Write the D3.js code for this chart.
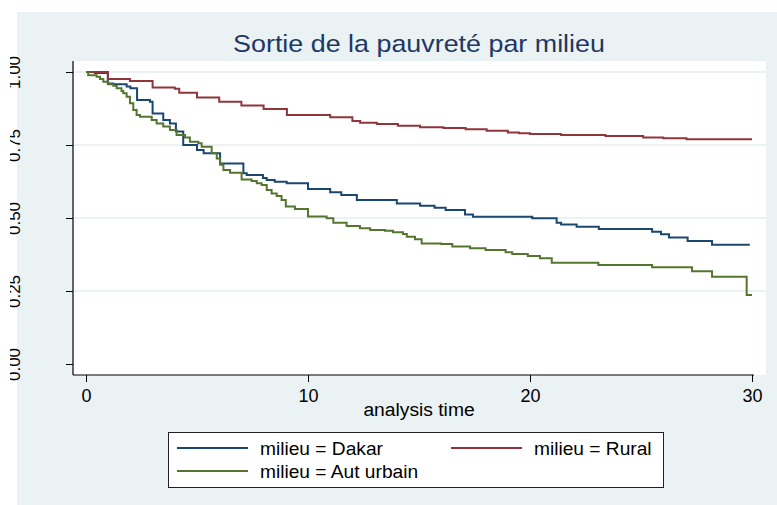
<!DOCTYPE html>
<html>
<head>
<meta charset="utf-8">
<script src="https://d3js.org/d3.v7.min.js"></script>
<style>
	body { margin: 0; background: #fff; }
	svg { display: block; font-family: "Liberation Sans", Arial, sans-serif; }
</style>
</head>
<body>
<svg id="chart" width="777" height="505"></svg>
<script>

// Kaplan-Meier estimates (time, survival)
var dakarTime = [0, 0.4, 0.98, 1.23, 1.83, 2.0, 2.3, 2.88, 3.0, 3.48, 3.78, 4.05, 4.38, 5.0, 5.3, 6.04, 7.09, 7.24, 7.97, 8.14, 8.5, 9.04, 10.0, 11.0, 11.5, 12.2, 14.0, 15.05, 15.7, 16.2, 17.07, 17.43, 20.1, 21.2, 21.4, 22.1, 23.1, 25.5, 25.9, 26.26, 27.1, 28.2, 29.9];
var dakarSurv = [1.0, 0.997, 0.961, 0.958, 0.95, 0.944, 0.904, 0.898, 0.858, 0.836, 0.824, 0.796, 0.75, 0.733, 0.722, 0.687, 0.653, 0.647, 0.637, 0.630, 0.624, 0.619, 0.599, 0.588, 0.579, 0.562, 0.550, 0.542, 0.535, 0.527, 0.512, 0.504, 0.499, 0.484, 0.478, 0.470, 0.462, 0.453, 0.444, 0.433, 0.421, 0.408, 0.408];

var ruralTime = [0, 0.99, 1.98, 3.0, 4.0, 4.2, 5.0, 6.0, 7.0, 8.0, 9.05, 11.0, 12.0, 12.35, 13.1, 14.05, 15.05, 16.1, 17.1, 18.05, 19.0, 19.5, 20.0, 21.4, 23.4, 25.1, 26.0, 27.05, 30.0];
var ruralSurv = [1.0, 0.976, 0.969, 0.947, 0.943, 0.929, 0.913, 0.898, 0.885, 0.873, 0.853, 0.845, 0.832, 0.826, 0.822, 0.816, 0.811, 0.808, 0.804, 0.799, 0.793, 0.790, 0.788, 0.784, 0.781, 0.776, 0.773, 0.770, 0.770];

var autTime = [0, 0.1, 0.48, 0.63, 0.78, 1.0, 1.23, 1.38, 1.6, 1.68, 1.83, 1.98, 2.13, 2.28, 2.43, 2.96, 3.18, 3.48, 3.78, 4.08, 4.46, 4.68, 5.06, 5.21, 5.66, 5.89, 6.04, 6.19, 6.49, 7.01, 7.46, 7.69, 7.91, 8.14, 8.36, 8.59, 8.81, 9.0, 9.41, 10.0, 10.84, 11.14, 11.74, 12.34, 12.8, 13.47, 13.83, 14.28, 14.45, 14.82, 15.12, 16.0, 16.5, 17.3, 18.0, 18.9, 19.2, 19.9, 20.45, 20.98, 23.08, 25.5, 27.3, 28.2, 29.76, 30.0];
var autSurv = [1.0, 0.989, 0.984, 0.976, 0.967, 0.958, 0.953, 0.944, 0.935, 0.927, 0.915, 0.893, 0.870, 0.853, 0.847, 0.836, 0.824, 0.813, 0.801, 0.784, 0.776, 0.761, 0.756, 0.744, 0.722, 0.704, 0.682, 0.664, 0.655, 0.632, 0.627, 0.619, 0.613, 0.596, 0.584, 0.575, 0.562, 0.539, 0.531, 0.505, 0.499, 0.484, 0.473, 0.465, 0.459, 0.456, 0.451, 0.445, 0.436, 0.427, 0.413, 0.411, 0.402, 0.396, 0.390, 0.383, 0.377, 0.370, 0.362, 0.347, 0.339, 0.331, 0.318, 0.299, 0.236, 0.236];

var seriesNames = ["milieu = Dakar", "milieu = Rural", "milieu = Aut urbain"];
var seriesColors = ["#1a476f", "#90353b", "#55752f"];

var xTicks = [0, 10, 20, 30];
var yTicks = [0, 0.25, 0.5, 0.75, 1];

var titleText = "Sortie de la pauvreté par milieu";
var xTitle = "analysis time";


var svg = d3.select("#chart");

var PANEL_BG = "#eaf2f3";
var plotBox = { left: 73, top: 61, right: 766, bottom: 375 };

var x = d3.scaleLinear().domain([0, 30]).range([86, 752]);
var y = d3.scaleLinear().domain([0, 1]).range([364, 72]);

// the source image is cropped on the left, tick labels lose their tops
svg.append("defs").append("clipPath")
	.attr("id", "leftcrop")
	.append("rect")
	.attr("x", 10).attr("y", 0)
	.attr("width", 767).attr("height", 505);

// graph region + plot region
svg.append("rect")
	.attr("x", 17).attr("y", 12)
	.attr("width", 777 - 17).attr("height", 505 - 12)
	.attr("fill", PANEL_BG);

svg.append("rect")
	.attr("x", plotBox.left).attr("y", plotBox.top)
	.attr("width", plotBox.right - plotBox.left)
	.attr("height", plotBox.bottom - plotBox.top)
	.attr("fill", "#fff");

// grid lines (none at 0)
svg.append("g").selectAll("line")
	.data(yTicks.filter(function(d) { return d > 0; }))
	.enter().append("line")
	.attr("x1", plotBox.left).attr("x2", plotBox.right)
	.attr("y1", function(d) { return y(d); })
	.attr("y2", function(d) { return y(d); })
	.attr("stroke", PANEL_BG)
	.attr("stroke-width", 2);

// stretch text horizontally a bit, the source picture is wider than tall
function stretchText(g, px, py, sx, txt, size, color) {
	g.append("text")
		.attr("transform", "translate(" + px + "," + py + ") scale(" + sx + ",1)")
		.attr("text-anchor", "middle")
		.attr("font-size", size)
		.attr("fill", color)
		.text(txt);
}

stretchText(svg, 419, 52, 1.12, titleText, 24, "#1e3765");

// y axis
var yAxis = d3.axisLeft(y).tickValues(yTicks).tickFormat(d3.format(".2f")).tickSize(7);
var yG = svg.append("g")
	.attr("clip-path", "url(#leftcrop)")
	.append("g")
	.attr("transform", "translate(" + plotBox.left + ",0)")
	.call(yAxis);
yG.select(".domain").remove();
yG.selectAll(".tick line").attr("stroke", "#000");
yG.selectAll(".tick text")
	.attr("font-size", 17)
	.attr("font-family", "Liberation Sans, Arial, sans-serif")
	.attr("fill", "#000")
	.attr("x", null).attr("dy", null)
	.attr("text-anchor", "middle")
	.attr("transform", "translate(-53,0) rotate(-90)");

// x axis
var xAxis = d3.axisBottom(x).tickValues(xTicks).tickFormat(d3.format("d")).tickSize(7);
var xG = svg.append("g")
	.attr("transform", "translate(0," + plotBox.bottom + ")")
	.call(xAxis);
xG.select(".domain").remove();
xG.selectAll(".tick line").attr("stroke", "#000");
xG.selectAll(".tick text")
	.attr("font-size", 18)
	.attr("font-family", "Liberation Sans, Arial, sans-serif")
	.attr("fill", "#000")
	.attr("y", 27).attr("dy", null);

// axis lines
svg.append("line")
	.attr("x1", plotBox.left).attr("x2", plotBox.left)
	.attr("y1", plotBox.top).attr("y2", plotBox.bottom)
	.attr("stroke", "#000").attr("stroke-width", 1.2);
svg.append("line")
	.attr("x1", plotBox.left).attr("x2", x(30) + 2)
	.attr("y1", plotBox.bottom).attr("y2", plotBox.bottom)
	.attr("stroke", "#000").attr("stroke-width", 1.2);

stretchText(svg, 419, 416, 1.07, xTitle, 18, "#000");

// survival curves
var curves = [
	{ time: dakarTime, surv: dakarSurv },
	{ time: ruralTime, surv: ruralSurv },
	{ time: autTime, surv: autSurv }
];

var line = d3.line()
	.x(function(d) { return x(d[0]); })
	.y(function(d) { return y(d[1]); })
	.curve(d3.curveStepAfter);

curves.forEach(function(c, i) {
	var pts = c.time.map(function(t, j) { return [t, c.surv[j]]; });
	svg.append("path")
		.attr("d", line(pts))
		.attr("fill", "none")
		.attr("stroke", seriesColors[i])
		.attr("stroke-width", 2);
});

// legend
var lg = svg.append("g");
lg.append("rect")
	.attr("x", 168.5).attr("y", 432.5)
	.attr("width", 495).attr("height", 55)
	.attr("fill", "#fff")
	.attr("stroke", "#222")
	.attr("stroke-width", 1);

var legendPos = [
	{ x: 177, y: 448 },
	{ x: 451, y: 448 },
	{ x: 177, y: 471 }
];

legendPos.forEach(function(p, i) {
	lg.append("line")
		.attr("x1", p.x).attr("x2", p.x + 71)
		.attr("y1", p.y).attr("y2", p.y)
		.attr("stroke", seriesColors[i])
		.attr("stroke-width", 2);
	lg.append("text")
		.attr("transform", "translate(" + (p.x + 83) + "," + (p.y + 7) + ") scale(1.065,1)")
		.attr("font-size", 18)
		.attr("fill", "#000")
		.text(seriesNames[i]);
});

</script>
</body>
</html>
